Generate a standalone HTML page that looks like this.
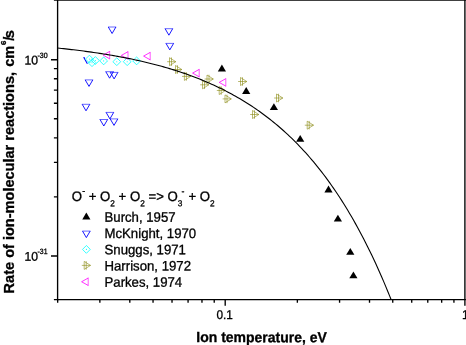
<!DOCTYPE html>
<html><head><meta charset="utf-8"><title>chart</title>
<style>
html,body{margin:0;padding:0;background:#fff;}
body{width:466px;height:345px;overflow:hidden;}
svg{display:block;will-change:transform;}
text{font-family:"Liberation Sans",sans-serif;fill:#000;stroke:#000;stroke-width:0.3px;}
.b{font-weight:bold;stroke-width:0.3px;}
</style></head><body>
<svg width="466" height="345" viewBox="0 0 466 345">
<rect width="466" height="345" fill="#fff"/>
<g stroke="#000" stroke-width="1.35" fill="none" stroke-linecap="butt">
<path d="M57.6 0V300.15000000000003"/>
<path d="M53.9 299.55H465.9"/>
<path d="M53.9 0.1H465.9"/>
<path d="M464.9 0V305.75"/>
<path d="M51.0 59.70H57.6 M51.0 256.00H57.6 M53.9 196.91H57.6 M53.9 162.34H57.6 M53.9 137.82H57.6 M53.9 118.79H57.6 M53.9 103.25H57.6 M53.9 90.11H57.6 M53.9 78.72H57.6 M53.9 68.68H57.6"/>
<path d="M57.66 299.55V302.85 M99.87 299.55V302.85 M129.81 299.55V302.85 M153.04 299.55V302.85 M172.02 299.55V302.85 M188.07 299.55V302.85 M201.97 299.55V302.85 M214.23 299.55V302.85 M225.20 299.55V305.75 M297.36 299.55V302.85 M339.57 299.55V302.85 M369.51 299.55V302.85 M392.74 299.55V302.85 M411.72 299.55V302.85 M427.77 299.55V302.85 M441.67 299.55V302.85 M453.93 299.55V302.85"/>
</g>
<g fill="none" stroke="#0000ff" stroke-width="0.9">
<path d="M108.30 27.00L112.10 33.50L115.90 27.00"/><path d="M108.00 27.00H116.20" stroke-width="0.6"/>
<path d="M84.90 57.90H84.00L87.40 63.80" stroke-width="1.1"/>
<path d="M105.80 71.70L109.60 78.20L113.40 71.70"/><path d="M105.50 71.70H113.70" stroke-width="0.6"/>
<path d="M110.30 72.40L114.10 78.90L117.90 72.40"/><path d="M110.00 72.40H118.20" stroke-width="0.6"/>
<path d="M85.20 79.90L89.00 86.40L92.80 79.90"/><path d="M84.90 79.90H93.10" stroke-width="0.6"/>
<path d="M82.20 104.30L86.00 110.80L89.80 104.30"/><path d="M81.90 104.30H90.10" stroke-width="0.6"/>
<path d="M106.10 112.40L109.90 118.90L113.70 112.40"/><path d="M105.80 112.40H114.00" stroke-width="0.6"/>
<path d="M100.00 119.50L103.80 126.00L107.60 119.50"/><path d="M99.70 119.50H107.90" stroke-width="0.6"/>
<path d="M110.20 118.90L114.00 125.40L117.80 118.90"/><path d="M109.90 118.90H118.10" stroke-width="0.6"/>
<path d="M165.10 28.70L168.90 35.20L172.70 28.70"/><path d="M164.80 28.70H173.00" stroke-width="0.6"/>
<path d="M166.00 43.40L169.80 49.90L173.60 43.40"/><path d="M165.70 43.40H173.90" stroke-width="0.6"/>
<path d="M82.55 231.10L86.35 237.60L90.15 231.10"/><path d="M82.25 231.10H90.45" stroke-width="0.6"/>
</g>
<g fill="none" stroke="#00ffff" stroke-width="0.8">
<path d="M85.50 59.10L89.40 55.20L93.30 59.10L89.40 63.00Z"/><circle cx="89.40" cy="59.10" r="0.55" fill="#00ffff" stroke="none"/>
<path d="M88.10 62.70L92.00 58.80L95.90 62.70L92.00 66.60Z"/><circle cx="92.00" cy="62.70" r="0.55" fill="#00ffff" stroke="none"/>
<path d="M91.50 60.50L95.40 56.60L99.30 60.50L95.40 64.40Z"/><circle cx="95.40" cy="60.50" r="0.55" fill="#00ffff" stroke="none"/>
<path d="M99.75 60.90L103.65 57.00L107.55 60.90L103.65 64.80Z"/><circle cx="103.65" cy="60.90" r="0.55" fill="#00ffff" stroke="none"/>
<path d="M112.90 61.70L116.80 57.80L120.70 61.70L116.80 65.60Z"/><circle cx="116.80" cy="61.70" r="0.55" fill="#00ffff" stroke="none"/>
<path d="M123.30 61.70L127.20 57.80L131.10 61.70L127.20 65.60Z"/><circle cx="127.20" cy="61.70" r="0.55" fill="#00ffff" stroke="none"/>
<path d="M132.70 60.90L136.60 57.00L140.50 60.90L136.60 64.80Z"/><circle cx="136.60" cy="60.90" r="0.55" fill="#00ffff" stroke="none"/>
<path d="M82.50 249.40L86.40 245.50L90.30 249.40L86.40 253.30Z"/><circle cx="86.40" cy="249.40" r="0.55" fill="#00ffff" stroke="none"/>
</g>
<g fill="none" stroke="#8a8a10" stroke-width="0.6">
<path d="M169.50 57.70V65.70L175.80 61.70ZM167.10 61.70H175.80M171.50 57.45V65.95"/>
<path d="M175.50 65.50V73.50L181.80 69.50ZM173.10 69.50H181.80M177.50 65.25V73.75"/>
<path d="M184.40 72.40V80.40L190.70 76.40ZM182.00 76.40H190.70M186.40 72.15V80.65"/>
<path d="M207.00 75.00V83.00L213.30 79.00ZM204.60 79.00H213.30M209.00 74.75V83.25"/>
<path d="M202.50 80.80V88.80L208.80 84.80ZM200.10 84.80H208.80M204.50 80.55V89.05"/>
<path d="M219.20 86.50V94.50L225.50 90.50ZM216.80 90.50H225.50M221.20 86.25V94.75"/>
<path d="M225.00 94.90V102.90L231.30 98.90ZM222.60 98.90H231.30M227.00 94.65V103.15"/>
<path d="M240.50 77.50V85.50L246.80 81.50ZM238.10 81.50H246.80M242.50 77.25V85.75"/>
<path d="M252.50 110.50V118.50L258.80 114.50ZM250.10 114.50H258.80M254.50 110.25V118.75"/>
<path d="M276.50 94.00V102.00L282.80 98.00ZM274.10 98.00H282.80M278.50 93.75V102.25"/>
<path d="M307.20 121.20V129.20L313.50 125.20ZM304.80 125.20H313.50M309.20 120.95V129.45"/>
<path d="M84.20 261.40V269.40L90.50 265.40ZM81.80 265.40H90.50M86.20 261.15V269.65"/>
</g>
<g fill="none" stroke="#ff00ff" stroke-width="0.8">
<path d="M103.10 55.10L109.70 51.40M103.10 55.10L109.70 58.80"/><path d="M109.70 51.00V59.20" stroke-width="0.65"/>
<path d="M121.40 55.40L128.00 51.70M121.40 55.40L128.00 59.10"/><path d="M128.00 51.30V59.50" stroke-width="0.65"/>
<path d="M143.60 56.10L150.20 52.40M143.60 56.10L150.20 59.80"/><path d="M150.20 52.00V60.20" stroke-width="0.65"/>
<path d="M192.60 73.10L199.20 69.40M192.60 73.10L199.20 76.80"/><path d="M199.20 69.00V77.20" stroke-width="0.65"/>
<path d="M219.20 82.40L225.80 78.70M219.20 82.40L225.80 86.10"/><path d="M225.80 78.30V86.50" stroke-width="0.65"/>
<path d="M81.60 281.75L88.20 278.05M81.60 281.75L88.20 285.45"/><path d="M88.20 277.65V285.85" stroke-width="0.65"/>
</g>
<g>
<path d="M221.90 64.60L226.00 71.40H217.80Z" fill="#000"/>
<path d="M246.20 87.10L250.30 93.90H242.10Z" fill="#000"/>
<path d="M273.90 103.20L278.00 110.00H269.80Z" fill="#000"/>
<path d="M300.20 135.00L304.30 141.80H296.10Z" fill="#000"/>
<path d="M328.50 185.60L332.60 192.40H324.40Z" fill="#000"/>
<path d="M337.90 214.70L342.00 221.50H333.80Z" fill="#000"/>
<path d="M350.30 247.90L354.40 254.70H346.20Z" fill="#000"/>
<path d="M353.40 271.50L357.50 278.30H349.30Z" fill="#000"/>
<path d="M86.35 212.60L90.45 219.40H82.25Z" fill="#000"/>
</g>
<path d="M57.60 48.04 L59.60 48.25 L61.60 48.46 L63.60 48.67 L65.60 48.89 L67.60 49.12 L69.60 49.34 L71.60 49.58 L73.60 49.81 L75.60 50.05 L77.60 50.30 L79.60 50.55 L81.60 50.80 L83.60 51.06 L85.60 51.33 L87.60 51.60 L89.60 51.88 L91.60 52.16 L93.60 52.44 L95.60 52.73 L97.60 53.03 L99.60 53.34 L101.60 53.65 L103.60 53.96 L105.60 54.28 L107.60 54.61 L109.60 54.94 L111.60 55.28 L113.60 55.63 L115.60 55.98 L117.60 56.35 L119.60 56.71 L121.60 57.09 L123.60 57.47 L125.60 57.86 L127.60 58.26 L129.60 58.66 L131.60 59.07 L133.60 59.49 L135.60 59.92 L137.60 60.36 L139.60 60.81 L141.60 61.26 L143.60 61.72 L145.60 62.19 L147.60 62.68 L149.60 63.17 L151.60 63.67 L153.60 64.18 L155.60 64.70 L157.60 65.23 L159.60 65.77 L161.60 66.32 L163.60 66.88 L165.60 67.45 L167.60 68.03 L169.60 68.63 L171.60 69.23 L173.60 69.85 L175.60 70.48 L177.60 71.12 L179.60 71.78 L181.60 72.44 L183.60 73.12 L185.60 73.82 L187.60 74.52 L189.60 75.24 L191.60 75.98 L193.60 76.72 L195.60 77.49 L197.60 78.27 L199.60 79.06 L201.60 79.87 L203.60 80.69 L205.60 81.53 L207.60 82.39 L209.60 83.26 L211.60 84.15 L213.60 85.06 L215.60 85.98 L217.60 86.92 L219.60 87.88 L221.60 88.86 L223.60 89.86 L225.60 90.88 L227.60 91.92 L229.60 92.97 L231.60 94.05 L233.60 95.15 L235.60 96.27 L237.60 97.41 L239.60 98.58 L241.60 99.77 L243.60 100.98 L245.60 102.21 L247.60 103.47 L249.60 104.75 L251.60 106.05 L253.60 107.39 L255.60 108.74 L257.60 110.13 L259.60 111.54 L261.60 112.98 L263.60 114.44 L265.60 115.94 L267.60 117.46 L269.60 119.02 L271.60 120.60 L273.60 122.21 L275.60 123.86 L277.60 125.54 L279.60 127.25 L281.60 128.99 L283.60 130.77 L285.60 132.58 L287.60 134.42 L289.60 136.31 L291.60 138.22 L293.60 140.18 L295.60 142.17 L297.60 144.21 L299.60 146.28 L301.60 148.39 L303.60 150.54 L305.60 152.74 L307.60 154.98 L309.60 157.26 L311.60 159.58 L313.60 161.95 L315.60 164.37 L317.60 166.83 L319.60 169.34 L321.60 171.90 L323.60 174.51 L325.60 177.17 L327.60 179.88 L329.60 182.65 L331.60 185.46 L333.60 188.34 L335.60 191.26 L337.60 194.25 L339.60 197.29 L341.60 200.39 L343.60 203.56 L345.60 206.78 L347.60 210.06 L349.60 213.41 L351.60 216.83 L353.60 220.31 L355.60 223.86 L357.60 227.47 L359.60 231.16 L361.60 234.92 L363.60 238.75 L365.60 242.66 L367.60 246.64 L369.60 250.70 L371.60 254.84 L373.60 259.05 L375.60 263.35 L377.60 267.74 L379.60 272.21 L381.60 276.76 L383.60 281.40 L385.60 286.14 L387.60 290.96 L389.60 295.88 L391.07 299.55" stroke="#000" stroke-width="1.1" fill="none"/>
<text font-size="12.2" transform="translate(24.5 64.5) scale(1 1.04) rotate(0.03)">10</text>
<text font-size="7.4" transform="translate(37.5 58.0) scale(1 1.04) rotate(0.03)" textLength="10.2" lengthAdjust="spacingAndGlyphs">-30</text>
<text font-size="12.2" transform="translate(24.5 260.8) scale(1 1.04) rotate(0.03)">10</text>
<text font-size="7.4" transform="translate(37.5 254.0) scale(1 1.04) rotate(0.03)" textLength="10.0" lengthAdjust="spacingAndGlyphs">-31</text>
<text font-size="12.2" transform="translate(216.5 319.1) scale(1 1.04) rotate(0.03)" textLength="16.4" lengthAdjust="spacingAndGlyphs">0.1</text>
<text font-size="12.2" transform="translate(461.9 319.1) scale(1 1.04) rotate(0.03)">1</text>
<text font-size="14" transform="translate(196.3 342.1) scale(1 1.04) rotate(0.03)" class="b">Ion temperature, eV</text>
<text class="b" transform="translate(14.4 293.4) scale(1 1.04) rotate(-90)" font-size="14">Rate of ion-molecular reactions,<tspan dx="1.1"> cm</tspan><tspan font-size="7.6" dy="-8.3" dx="0.8">6</tspan><tspan dy="8.3" dx="-0.3">/</tspan><tspan dx="-1.45">s</tspan></text>
<text font-size="13.2" transform="translate(71.7 200.9) scale(1 1.04) rotate(0.03)">O<tspan font-size="8.8" dy="-6.7" dx="0.3">-</tspan><tspan dy="6.7" dx="-0.2"> + O</tspan><tspan font-size="8.3" dy="5.0">2</tspan><tspan dy="-5.0"> + O</tspan><tspan font-size="8.3" dy="5.0">2</tspan><tspan dy="-5.0"> =&gt; O</tspan><tspan font-size="8.3" dy="5.0">3</tspan><tspan font-size="8.8" dy="-11.5" dx="-0.9">-</tspan><tspan dy="6.5" dx="0.4"> + O</tspan><tspan font-size="8.3" dy="5.0">2</tspan></text>
<text font-size="13.2" transform="translate(104.5 221.7) scale(1 1.04) rotate(0.03)">Burch, 1957</text>
<text font-size="13.2" transform="translate(104.5 238.0) scale(1 1.04) rotate(0.03)">McKnight, 1970</text>
<text font-size="13.2" transform="translate(104.5 254.2) scale(1 1.04) rotate(0.03)">Snuggs, 1971</text>
<text font-size="13.2" transform="translate(104.5 270.5) scale(1 1.04) rotate(0.03)">Harrison, 1972</text>
<text font-size="13.2" transform="translate(104.5 286.8) scale(1 1.04) rotate(0.03)">Parkes, 1974</text>
</svg>
</body></html>
